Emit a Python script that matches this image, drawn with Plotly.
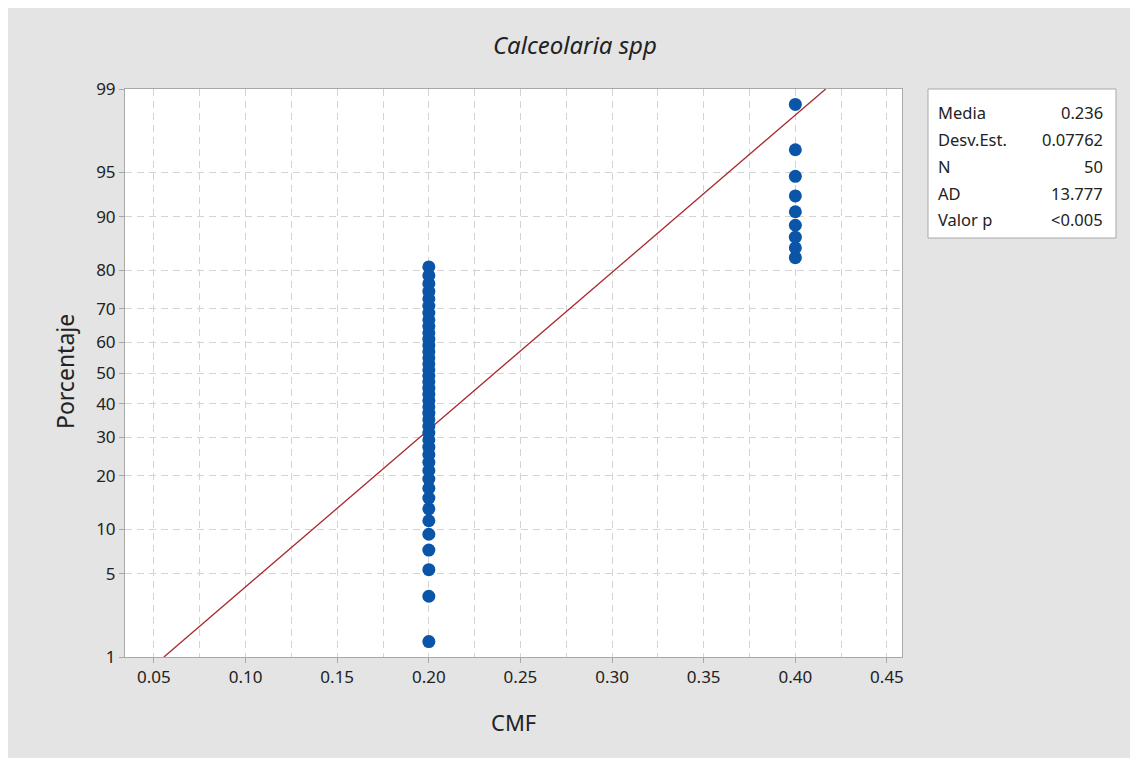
import plotly.graph_objects as go
from statistics import NormalDist

# ---- data ----
cmf = [0.20] * 41 + [0.40] * 9
porcentaje = [1.389, 3.373, 5.357, 7.341, 9.325, 11.310, 13.294, 15.278, 17.262, 19.246,
              21.230, 23.214, 25.198, 27.183, 29.167, 31.151, 33.135, 35.119, 37.103, 39.087,
              41.071, 43.056, 45.040, 47.024, 49.008, 50.992, 52.976, 54.960, 56.944, 58.929,
              60.913, 62.897, 64.881, 66.865, 68.849, 70.833, 72.817, 74.802, 76.786, 78.770,
              80.754, 82.738, 84.722, 86.706, 88.690, 90.675, 92.659, 94.643, 96.627, 98.611]
media = 0.236
desv = 0.07762
stat_labels = ["Media", "Desv.Est.", "N", "AD", "Valor p"]
stat_values = ["0.236", "0.07762", "50", "13.777", "<0.005"]
y_ticks = [1, 5, 10, 20, 30, 40, 50, 60, 70, 80, 90, 95, 99]
x_ticks = [0.05, 0.10, 0.15, 0.20, 0.25, 0.30, 0.35, 0.40, 0.45]

nd = NormalDist()
z = lambda p: nd.inv_cdf(p / 100.0)

# page body has an 8px margin; figure is sized to fill the rest of the window
W, H = 1130, 750
L, T = 117, 81
pw, ph = 777, 568
R, B = W - L - pw, H - T - ph
# helpers in reference-screen pixels -> paper coords
px = lambda x: (x - 125) / pw
py = lambda y: (657 - y) / ph

FONT = "Noto Sans"
TXT = "#222222"
fig = go.Figure()

line_p = [1, 99]
fig.add_trace(go.Scatter(
    x=[media + desv * z(p) for p in line_p], y=[z(p) for p in line_p],
    mode="lines", line=dict(color="#A8282E", width=1.3), hoverinfo="skip", showlegend=False))

fig.add_trace(go.Scatter(
    x=cmf, y=[z(p) for p in porcentaje], mode="markers",
    marker=dict(color="#0A55A8", size=13, line=dict(width=0)),
    showlegend=False))

grid = dict(gridcolor="#d4d4d4", griddash="7px,5px", gridwidth=1)

fig.update_xaxes(
    range=[0.0342, 0.4582], tickvals=x_ticks, ticktext=[f"{v:.2f}" for v in x_ticks],
    showgrid=True, **grid,
    minor=dict(tickvals=[0.075, 0.125, 0.175, 0.225, 0.275, 0.325, 0.375, 0.425],
               showgrid=True, gridcolor="#d4d4d4", griddash="7px,5px", ticks=""),
    showline=True, linecolor="#a8a8a8", linewidth=1, mirror=True,
    ticks="outside", ticklen=5, tickcolor="#a8a8a8",
    tickfont=dict(family=FONT, size=17, color=TXT),
    zeroline=False)
fig.update_yaxes(
    range=[z(1), z(99)], tickvals=[z(v) for v in y_ticks], ticktext=[str(v) for v in y_ticks],
    showgrid=True, **grid,
    showline=True, linecolor="#a8a8a8", linewidth=1, mirror=True,
    ticks="outside", ticklen=5, tickcolor="#a8a8a8",
    tickfont=dict(family=FONT, size=17, color=TXT),
    zeroline=False)

shapes = [
    dict(type="rect", xref="paper", yref="paper", x0=px(928), x1=px(1116), y0=py(238), y1=py(89),
         fillcolor="white", line=dict(color="#a8a8a8", width=1), layer="above"),
]
annotations = [
    dict(text="<i>Calceolaria spp</i>", xref="paper", yref="paper", x=px(575), y=py(44),
         showarrow=False, font=dict(family=FONT, size=24, color=TXT), xanchor="center", yanchor="middle"),
    dict(text="CMF", xref="paper", yref="paper", x=px(513), y=py(722),
         showarrow=False, font=dict(family=FONT, size=22, color=TXT), xanchor="center", yanchor="middle"),
    dict(text="Porcentaje", xref="paper", yref="paper", x=px(65), y=py(372), textangle=-90,
         showarrow=False, font=dict(family=FONT, size=23, color=TXT), xanchor="center", yanchor="middle"),
]
for i, (lab, val) in enumerate(zip(stat_labels, stat_values)):
    yy = 112 + i * 27
    annotations.append(dict(text=lab, xref="paper", yref="paper", x=px(936), y=py(yy), showarrow=False,
                            xanchor="left", yanchor="middle", font=dict(family=FONT, size=16.5, color=TXT)))
    annotations.append(dict(text=val, xref="paper", yref="paper", x=px(1105), y=py(yy), showarrow=False,
                            xanchor="right", yanchor="middle", font=dict(family=FONT, size=16.5, color=TXT)))

fig.update_layout(
    width=W, height=H, margin=dict(l=L, r=R, t=T, b=B, autoexpand=False),
    paper_bgcolor="#e4e4e4", plot_bgcolor="white",
    shapes=shapes, annotations=annotations, showlegend=False,
    font=dict(family=FONT))

fig.write_html("out.html")
